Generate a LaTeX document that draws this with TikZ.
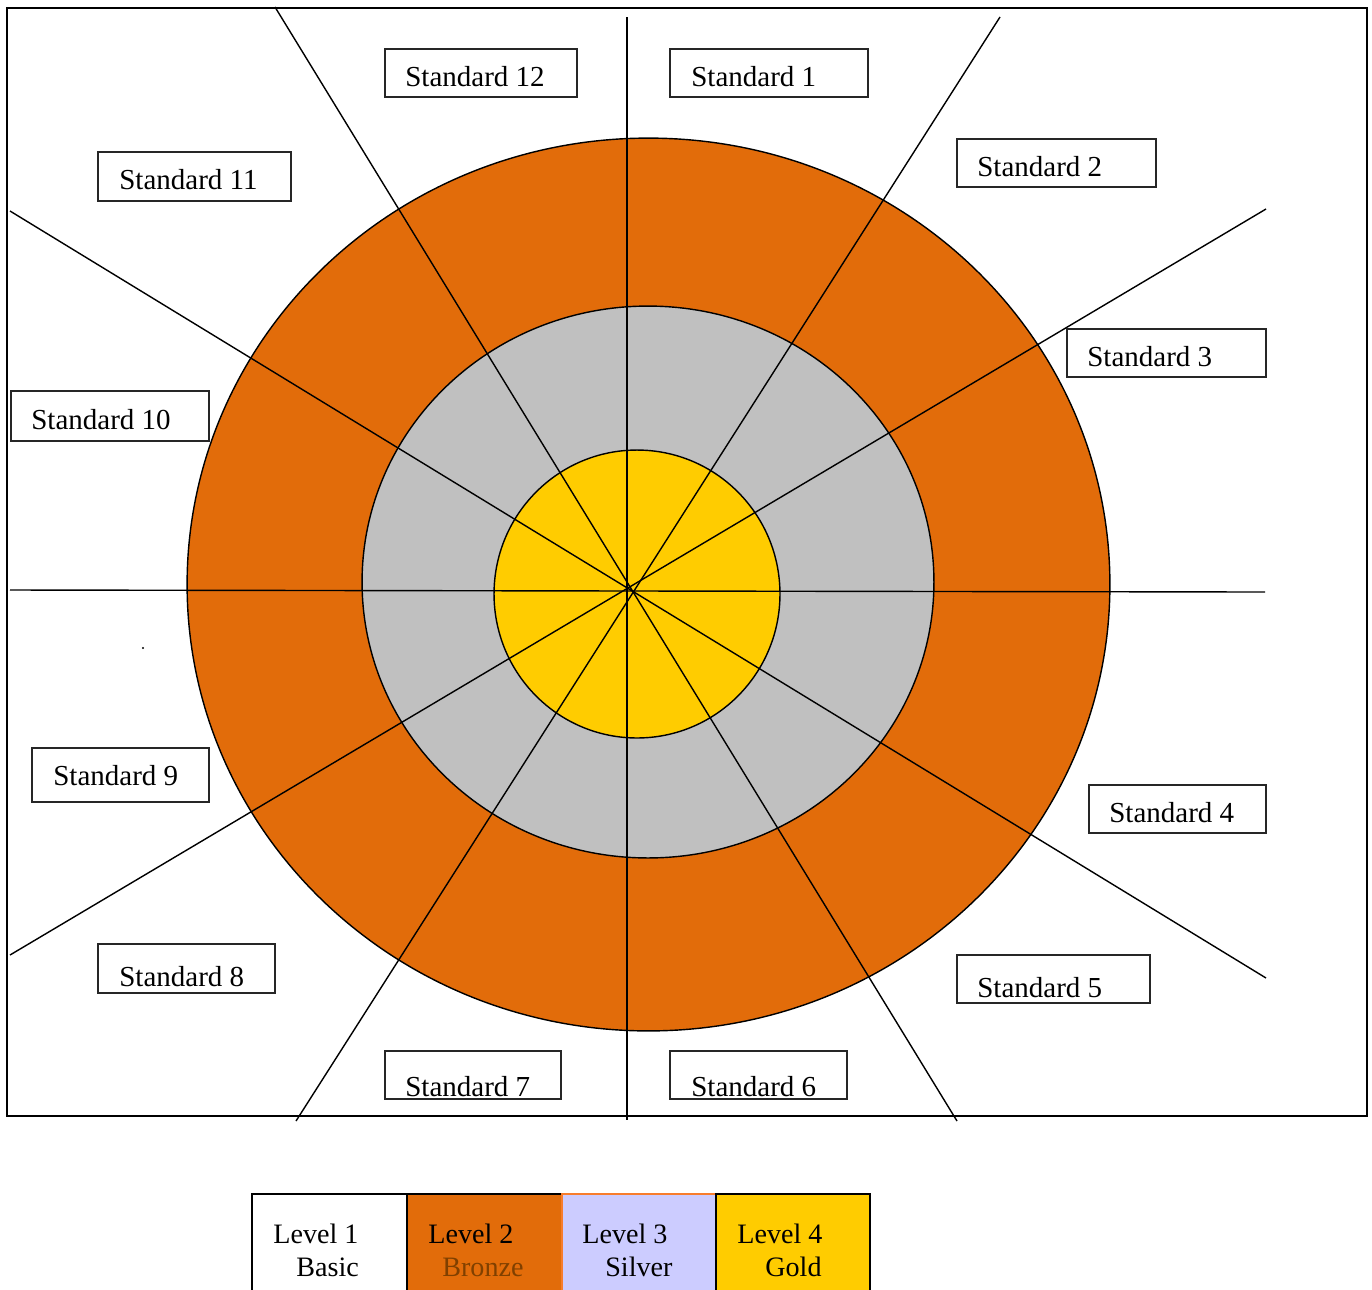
\documentclass[tikz,border=0pt]{standalone}
\usepackage{fontspec}
\setmainfont{LiberationSerif}[Extension=.ttf, UprightFont=*-Regular, BoldFont=*-Bold]
\usepackage{xcolor}
\usetikzlibrary{positioning}
\definecolor{bronze}{RGB}{226,108,10}
\definecolor{silver}{RGB}{192,192,192}
\definecolor{gold}{RGB}{255,204,0}
\definecolor{lavender}{RGB}{204,204,255}
\definecolor{bronzetext}{RGB}{128,64,0}
\definecolor{lightorange}{RGB}{247,125,45}

\begin{document}
\begin{tikzpicture}[x=0.02cm, y=-0.02cm,
    ring/.style={draw=black, line width=0.8pt},
    spoke/.style={black, line width=0.8pt},
    boxline/.style={draw=black!85, line width=1pt, fill=white},
    stdlabel/.style={font=\fontsize{16.5}{19}\selectfont, inner sep=0pt, anchor=base west},
    keybox/.style={line width=1pt},
    keylabel/.style={font=\fontsize{16}{19}\selectfont, inner sep=0pt, anchor=base west}]
    \useasboundingbox (0,0) rectangle (1372,1289);

    % Outer frame
    \draw[line width=1.2pt] (7,8) rectangle (1367,1116);

    % Level rings, outside in
    \draw[ring, fill=bronze] (648.5,584.5) ellipse (9.23cm and 8.93cm);
    \draw[ring, fill=silver] (648,582) ellipse (5.72cm and 5.52cm);
    \draw[ring, fill=gold] (637,594) ellipse (2.86cm and 2.88cm);

    % Spokes between the standards
    \foreach \xa/\ya/\xb/\yb in {627/17/627/1120, 10/590/1265/592, 1000/17/296/1121,
                                 1266/209/10/955, 275/7/957/1121, 10/211/1266/978}
        \draw[spoke] (\xa,\ya) -- (\xb,\yb);

    % Stray dot
    \fill (143,648) circle (0.6pt);

    % Standard boxes
    \foreach \xa/\ya/\xb/\yb/\tx/\ty/\name/\lab in {
        670/49/868/97/691/86/s1/1, 957/139/1156/187/977/176/s2/2,
        1067/329/1266/377/1087/366/s3/3, 1089/785/1266/833/1109/822/s4/4,
        957/955/1150/1003/977/997/s5/5, 670/1051/847/1099/691/1096/s6/6,
        385/1051/561/1099/405/1096/s7/7, 98/944/275/993/119/986/s8/8,
        32/748/209/802/53/785/s9/9, 11/391/209/441/31/429/s10/10,
        98/152/291/201/119/189/s11/11, 385/49/577/97/405/86/s12/12}
    {
        \draw[boxline] (\xa,\ya) rectangle (\xb,\yb);
        \node[stdlabel] (\name) at (\tx,\ty) {Standard \lab};
    }

    % Key of the levels
    \foreach \xa/\xb/\col/\edge in {252/407/white/black, 407/562/bronze/black,
                                    562/716/lavender/lightorange, 716/870/gold/black}
        \draw[keybox, fill=\col, draw=\edge] (\xa,1194) rectangle (\xb,1300);

    \foreach \tx/\bx/\n/\word/\wc in {273/296/1/Basic/black, 428/442/2/Bronze/bronzetext,
                                      582/605/3/Silver/black, 737/765/4/Gold/black}
    {
        \node[keylabel] (lev\n) at (\tx,1243) {Level \n};
        \node[keylabel, text=\wc] (name\n) at (\bx,1276) {\word};
    }
\end{tikzpicture}
\end{document}
